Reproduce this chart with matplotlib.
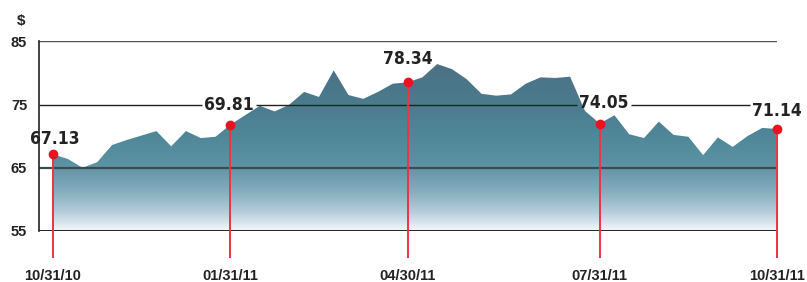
import matplotlib
matplotlib.use('Agg')
import matplotlib.pyplot as plt
import numpy as np
from matplotlib import font_manager
from matplotlib.font_manager import FontProperties
from matplotlib.colors import LinearSegmentedColormap
from matplotlib.patches import PathPatch

# weekly share price, 10/31/10 - 10/31/11
prices = [67.13, 66.4, 65.0, 65.9, 68.6, 69.4, 70.1, 70.8, 68.4, 70.8,
          69.7, 69.9, 71.8, 73.3, 74.8, 73.9, 75.0, 77.0, 76.2, 80.4,
          76.5, 75.9, 77.0, 78.3, 78.5, 79.3, 81.4, 80.6, 79.0, 76.7,
          76.4, 76.6, 78.3, 79.3, 79.2, 79.4, 74.0, 72.0, 73.3, 70.3,
          69.7, 72.3, 70.2, 69.9, 67.0, 69.8, 68.3, 70.0, 71.3, 71.14]
mark_idx = [0, 12, 24, 37, 49]
mark_labels = ['67.13', '69.81', '78.34', '74.05', '71.14']
mark_dates = ['10/31/10', '01/31/11', '04/30/11', '07/31/11', '10/31/11']
y_ticks = [55, 65, 75, 85]

# look for a condensed bold face for the value labels
names = {f.name for f in font_manager.fontManager.ttflist}
regular = 'Liberation Sans' if 'Liberation Sans' in names else 'DejaVu Sans'
best = None
rank = {'extra-condensed': 1, 'condensed': 0, 'semi-condensed': 2}
for f in font_manager.fontManager.ttflist:
    st = f.stretch if isinstance(f.stretch, str) else 'normal'
    if 'Narrow' in f.name or ('Condensed' in f.name and 'Semi' not in f.name):
        st = 'condensed'
    weight = f.weight if isinstance(f.weight, int) else (700 if f.weight == 'bold' else 400)
    if st in rank and 600 <= weight <= 750 and f.style == 'normal':
        if best is None or rank[st] < best[0]:
            best = (rank[st], f.fname)
if best is not None:
    label_font = FontProperties(fname=best[1], size=13.5)
else:
    label_font = FontProperties(family=regular, weight='bold', size=12.5)

fig = plt.figure(figsize=(8.07, 2.82), dpi=100)
ax = fig.add_axes([39 / 807, 1 - 231 / 282, 738 / 807, 189.7 / 282])
renderer = fig.canvas.get_renderer()

# shrink the label size a bit if the face is much wider than the original lettering
probe = fig.text(0, 0, '67.13', fontproperties=label_font)
w = probe.get_window_extent(renderer).width
probe.remove()
if w > 41:
    label_font.set_size(max(12.5, label_font.get_size() * 41 / w))

x = np.arange(len(prices))
y = np.array(prices)
step = 724 / (len(prices) - 1)
x0 = -(53 - 39) / step
x1 = len(prices) - 1
ax.set_xlim(x0, x1)
ax.set_ylim(55, 85)

# gradient fill under the price line
stops = [(0.0, '#f4f7fa'), (1 / 30, '#dfe8f0'), (3 / 30, '#b5ccda'),
         (6 / 30, '#88afc0'), (9 / 30, '#6b9aad'), (10.5 / 30, '#5b92a4'),
         (15 / 30, '#4f8799'), (20 / 30, '#4b7b8e'), (1.0, '#4e6a7e')]
cmap = LinearSegmentedColormap.from_list('area', stops)
grad = np.linspace(1, 0, 400).reshape(-1, 1)
im = ax.imshow(grad, cmap=cmap, vmin=0, vmax=1, aspect='auto',
               extent=[x0, x1, 55, 85], zorder=1)
poly = ax.fill_between(x, y, 55, facecolor='none', edgecolor='none')
patch = PathPatch(poly.get_paths()[0], transform=ax.transData,
                  facecolor='none', edgecolor='none')
ax.add_patch(patch)
im.set_clip_path(patch)

# red markers with drop lines
mx = x[mark_idx]
my = y[mark_idx]
ax.vlines(mx, 50.7, my, color='#ee3344', lw=1.4, zorder=3, clip_on=False)
ax.plot(mx, my, 'o', color='#e8141e', ms=6, zorder=4, clip_on=False)

offsets = [(1, 11), (-1, 14), (0, 17), (3, 14.5), (0, 13)]
texts = []
for xi, yi, lab, off in zip(mx, my, mark_labels, offsets):
    t = ax.annotate(lab, (xi, yi), xytext=off, textcoords='offset points',
                    ha='center', va='center', fontproperties=label_font,
                    color='#222222', zorder=5, annotation_clip=False)
    texts.append(t)

# horizontal rules; the 75 rule breaks around labels sitting on it
ax.axhline(85, color='#555555', lw=1.0, zorder=2)
ax.axhline(65, color='#3c4a52', lw=1.6, zorder=2)
ax.axhline(55, color='#111111', lw=1.3, zorder=2)

inv = ax.transData.inverted()
y75 = ax.transData.transform((0, 75))[1]
gaps = []
for t in texts:
    bb = t.get_window_extent(renderer)
    if bb.y0 < y75 < bb.y1:
        gaps.append((inv.transform((bb.x0 - 2.5, 0))[0], inv.transform((bb.x1 + 2.5, 0))[0]))
gaps.sort()
start = x0
for g0, g1 in gaps:
    ax.hlines(75, start, g0, color='#222222', lw=1.0, zorder=2)
    start = g1
ax.hlines(75, start, x1, color='#222222', lw=1.0, zorder=2)

for s in ['top', 'right', 'bottom']:
    ax.spines[s].set_visible(False)
ax.spines['left'].set_color('#222222')
ax.spines['left'].set_linewidth(1.2)
ax.spines['left'].set_zorder(2)

ax.set_yticks(y_ticks)
ax.set_yticklabels([str(t) for t in y_ticks])
ax.set_xticks(mx)
ax.set_xticklabels(mark_dates)
ax.tick_params(axis='y', length=0, pad=8.5)
ax.tick_params(axis='x', length=0, pad=27)
for t in ax.get_yticklabels():
    t.set_fontfamily(regular)
    t.set_fontweight('bold')
    t.set_fontsize(10.5)
    t.set_color('#222222')
for t in ax.get_xticklabels():
    t.set_fontfamily(regular)
    t.set_fontweight('bold')
    t.set_fontsize(10.5)
    t.set_color('#222222')

fig.text(21.5 / 807, 1 - 21 / 282, '$', ha='center', va='center',
         fontsize=11, fontweight='bold', family=regular, color='#222222')

fig.savefig('out.png', dpi=100)
